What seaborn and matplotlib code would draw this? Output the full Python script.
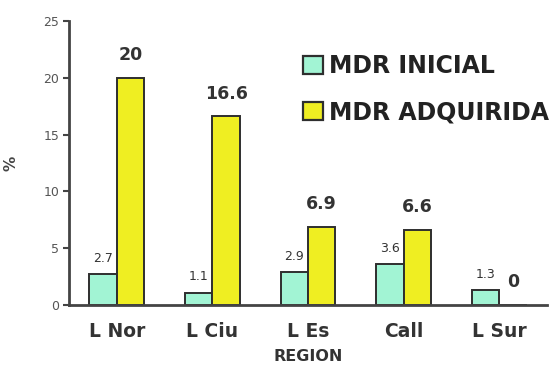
import matplotlib
matplotlib.use("Agg")
import matplotlib.pyplot as plt
from matplotlib.patches import Patch
import seaborn as sns
import pandas as pd

regions = ["L Nor", "L Ciu", "L Es", "Call", "L Sur"]
mdr_inicial = [2.7, 1.1, 2.9, 3.6, 1.3]
mdr_adquirida = [20, 16.6, 6.9, 6.6, 0]
series_names = ["MDR INICIAL", "MDR ADQUIRIDA"]
y_ticks = [0, 5, 10, 15, 20, 25]

green = "#A2F4D4"
yellow = "#EFEE22"
edge = "#2E2E2E"
axis_col = "#444444"

df = pd.DataFrame({
    "REGION": regions * 2,
    "valor": mdr_inicial + mdr_adquirida,
    "serie": [series_names[0]] * len(regions) + [series_names[1]] * len(regions),
})

sns.set_theme(style="white")
plt.rcParams["font.family"] = ["DejaVu Sans"]

fig = plt.figure(figsize=(5.58, 3.74), dpi=100)
ax = fig.add_axes([69 / 558, 1 - 305 / 374, (547 - 69) / 558, (305 - 21) / 374])

sns.barplot(data=df, x="REGION", y="valor", hue="serie", order=regions,
            hue_order=series_names, palette=[green, yellow], width=0.575,
            gap=0, edgecolor=edge, linewidth=1.4, saturation=1, legend=False, ax=ax)

ax.set_xlim(-0.5, len(regions) - 0.5)
ax.set_ylim(0, 25)
ax.set_yticks(y_ticks)
ax.set_yticklabels([str(t) for t in y_ticks], fontsize=9, color="#555555")
ax.set_xticks(range(len(regions)))
ax.set_xticklabels(regions, fontsize=13.5, fontweight="bold", color="#333333")
ax.set_xticks([i - 0.5 for i in range(len(regions) + 1)], minor=True)
ax.tick_params(axis="x", which="major", length=0, pad=12)
ax.tick_params(axis="x", which="minor", direction="out", length=4, width=1.5, color=axis_col)
ax.tick_params(axis="y", direction="out", length=4, width=1.5, color=axis_col, pad=3, left=True)

for side in ["top", "right"]:
    ax.spines[side].set_visible(False)
for side in ["left", "bottom"]:
    ax.spines[side].set_color(axis_col)
    ax.spines[side].set_linewidth(2)

ax.set_xlabel("REGION", fontsize=11.5, fontweight="bold", color="#333333", labelpad=6)
ax.set_ylabel("%", fontsize=11, fontweight="bold", color="#444444")
ax.yaxis.set_label_coords(-0.105, 0.5)
ax.grid(False)

# value labels: small for the initial series, bold for the acquired series
ax.bar_label(ax.containers[0], labels=[f"{v:g}" for v in mdr_inicial],
             padding=6.5, fontsize=9, color="#333333")
ax.bar_label(ax.containers[1], labels=[f"{v:g}" for v in mdr_adquirida],
             padding=10, fontsize=12.5, fontweight="bold", color="#333333")

handles = [Patch(facecolor=green, edgecolor=edge, linewidth=1.6),
           Patch(facecolor=yellow, edgecolor=edge, linewidth=1.6)]
leg = fig.legend(handles, series_names, loc="upper left",
                 bbox_to_anchor=(303 / 558, 1 - 54 / 374),
                 frameon=False, borderpad=0, borderaxespad=0,
                 handlelength=0.85, handleheight=0.8, handletextpad=0.25,
                 labelspacing=0.95,
                 prop={"size": 17, "weight": "bold"})
for t in leg.get_texts():
    t.set_color("#222222")

fig.savefig("out.png", dpi=100)
